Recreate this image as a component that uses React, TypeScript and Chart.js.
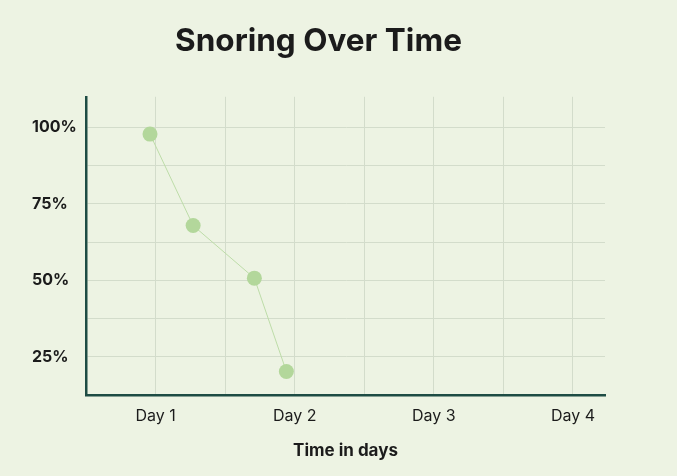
import React, { useEffect, useRef } from "react";
import { Chart, registerables } from "chart.js";

Chart.register(...registerables);

const TITLE = "Snoring Over Time";
const X_TITLE = "Time in days";
const dayValues = [0.96, 1.27, 1.71, 1.94];
const snoringPct = [97.8, 67.9, 50.7, 20.2];
const dayTickLabel = (v: number) => `Day ${v}`;
const pctTickLabel = (v: number) => `${v}%`;

const BG = "#edf3e3";
const AXIS = "#1e4c44";
const GRID = "#d3dccb";
const POINT = "#b3d79b";
const LINE = "#bddca8";
const TEXT = "#1b1b1b";
const FONT = "Inter, 'Open Sans', sans-serif";

export default function App() {
  const ref = useRef<HTMLCanvasElement | null>(null);

  useEffect(() => {
    if (!ref.current) return;
    const points = dayValues.map((x, i) => ({ x, y: snoringPct[i] }));
    const chart = new Chart(ref.current, {
      type: "line",
      data: {
        datasets: [
          {
            data: points,
            borderColor: LINE,
            borderWidth: 1,
            backgroundColor: POINT,
            pointBackgroundColor: POINT,
            pointBorderWidth: 0,
            pointRadius: 7.5,
            pointHoverRadius: 7.5,
            tension: 0,
          },
        ],
      },
      options: {
        animation: false,
        responsive: true,
        maintainAspectRatio: false,
        layout: { padding: { left: 32, right: 72, top: 0, bottom: 0 } },
        plugins: {
          legend: { display: false },
          tooltip: { enabled: false },
          title: {
            display: true,
            text: TITLE,
            color: TEXT,
            font: { family: FONT, size: 31.5, weight: "bold", lineHeight: 1.2 },
            padding: { top: 23, bottom: 36 },
          },
        },
        scales: {
          x: {
            type: "linear",
            min: 0.5,
            max: 4.23,
            grid: { color: GRID, drawTicks: false, lineWidth: 1 },
            border: { color: AXIS, width: 2.5 },
            ticks: {
              stepSize: 0.5,
              includeBounds: false,
              padding: 12,
              color: TEXT,
              font: { family: FONT, size: 16 },
              callback: (v: any) => (Number.isInteger(v) ? dayTickLabel(v) : ""),
              maxRotation: 0,
              autoSkip: false,
            },
            title: {
              display: true,
              text: X_TITLE,
              color: TEXT,
              font: { family: FONT, size: 17, weight: "bold", lineHeight: 1.2 },
              padding: { top: 0, bottom: 15 },
            },
            afterFit: (scale: any) => {
              scale.height = 81;
            },
          },
          y: {
            type: "linear",
            min: 12.5,
            max: 110,
            grid: { color: GRID, drawTicks: false, lineWidth: 1 },
            border: { color: AXIS, width: 2.5 },
            ticks: {
              stepSize: 12.5,
              includeBounds: false,
              crossAlign: "far",
              color: TEXT,
              font: { family: FONT, size: 16, weight: "bold" },
              callback: (v: any) => (v % 25 === 0 ? pctTickLabel(v) : ""),
              autoSkip: false,
            },
            afterFit: (scale: any) => {
              scale.width = 54;
            },
          },
        },
      },
    });
    return () => chart.destroy();
  }, []);

  return (
    <div
      style={{
        position: "fixed",
        left: 0,
        top: 0,
        width: 677,
        height: 476,
        background: BG,
      }}
    >
      <canvas ref={ref} />
    </div>
  );
}
